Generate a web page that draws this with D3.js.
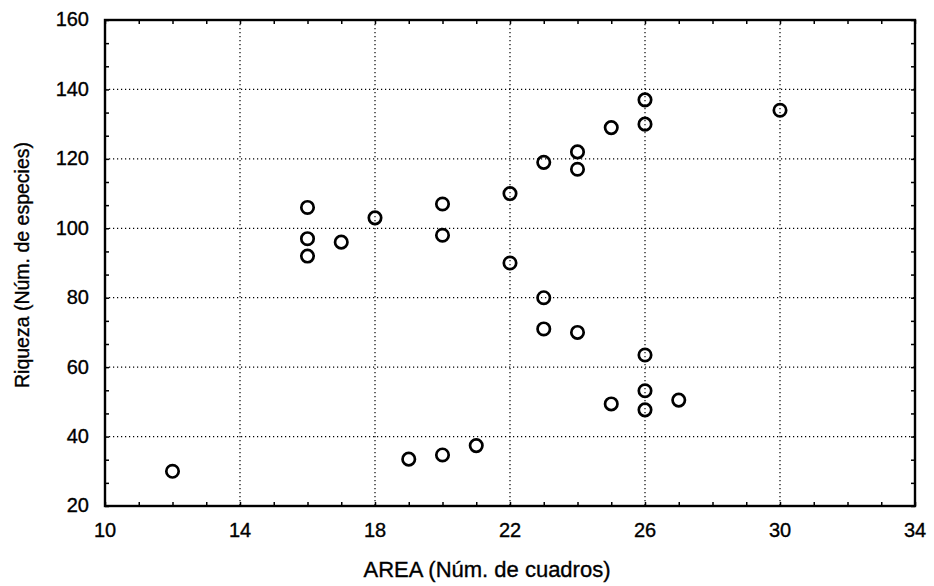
<!DOCTYPE html>
<html>
<head>
<meta charset="utf-8">
<script src="https://cdn.jsdelivr.net/npm/d3@7"></script>
<style>
    html, body { margin: 0; padding: 0; background: #fff; }
    svg { display: block; }
    text { font-family: "Liberation Sans", Arial, Helvetica, sans-serif; fill: #000; stroke: #000; stroke-width: 0.35px; }
</style>
</head>
<body>
<div id="chart"></div>
<script>
// Riqueza vs AREA scatter (scanned figure look)

const areaValues = [12, 16, 16, 16, 17, 18, 20, 20, 22, 22, 23, 24, 24, 25, 26, 26,
    23, 23, 24, 19, 20, 21, 26, 26, 26, 25, 27, 30];
const riquezaValues = [30, 106, 97, 92, 96, 103, 107, 98, 110, 90, 119, 122, 117, 129, 130, 137,
    80, 71, 70, 33.5, 34.7, 37.4, 63.5, 53.2, 47.7, 49.4, 50.5, 134];

const xTicks = [10, 14, 18, 22, 26, 30, 34];
const yTicks = [20, 40, 60, 80, 100, 120, 140, 160];
const xGrid = [14, 18, 22, 26, 30];
const yGrid = [40, 60, 80, 100, 120, 140];

const xTitle = 'AREA (Núm. de cuadros)';
const yTitle = 'Riqueza (Núm. de especies)';

const width = 934;
const height = 586;
const margin = { top: 20, right: 19, bottom: 80, left: 105 };

const svg = d3.select('#chart')
    .append('svg')
    .attr('width', width)
    .attr('height', height);

const x = d3.scaleLinear()
    .domain([10, 34])
    .range([margin.left, width - margin.right]);

const y = d3.scaleLinear()
    .domain([20, 160])
    .range([height - margin.bottom, margin.top]);

// Dotted grid
const grid = svg.append('g')
    .attr('stroke', '#000')
    .attr('stroke-width', 1.2)
    .attr('stroke-dasharray', '1.2,2.8');

grid.selectAll('line.gx')
    .data(xGrid)
    .join('line')
    .attr('class', 'gx')
    .attr('x1', d => x(d)).attr('x2', d => x(d))
    .attr('y1', y.range()[1]).attr('y2', y.range()[0]);

grid.selectAll('line.gy')
    .data(yGrid)
    .join('line')
    .attr('class', 'gy')
    .attr('y1', d => y(d)).attr('y2', d => y(d))
    .attr('x1', x.range()[0]).attr('x2', x.range()[1]);

// Inward ticks on all four sides (minor every 1 on x, every 20/3 on y)
const xMinor = d3.range(10, 34.01, 1);
const yMinor = d3.range(20, 160.01, 20 / 3);
const tickLen = 4;

const bottomAxis = d3.axisBottom(x).tickValues(xMinor).tickSize(-tickLen).tickFormat('');
const topAxis = d3.axisTop(x).tickValues(xMinor).tickSize(-tickLen).tickFormat('');
const leftAxis = d3.axisLeft(y).tickValues(yMinor).tickSize(-tickLen).tickFormat('');
const rightAxis = d3.axisRight(y).tickValues(yMinor).tickSize(-tickLen).tickFormat('');

[
    [bottomAxis, `translate(0,${y.range()[0]})`],
    [topAxis, `translate(0,${y.range()[1]})`],
    [leftAxis, `translate(${x.range()[0]},0)`],
    [rightAxis, `translate(${x.range()[1]},0)`],
].forEach(([ax, tr]) => {
    const g = svg.append('g').attr('transform', tr).call(ax);
    g.select('.domain').remove();
    g.selectAll('line').attr('stroke', '#000').attr('stroke-width', 1.5);
});

// Frame
svg.append('rect')
    .attr('x', x.range()[0])
    .attr('y', y.range()[1])
    .attr('width', x.range()[1] - x.range()[0])
    .attr('height', y.range()[0] - y.range()[1])
    .attr('fill', 'none')
    .attr('stroke', '#000')
    .attr('stroke-width', 2.4);

// Tick labels
svg.append('g')
    .selectAll('text')
    .data(xTicks)
    .join('text')
    .attr('x', d => x(d))
    .attr('y', 537)
    .attr('text-anchor', 'middle')
    .attr('font-size', '20px')
    .text(d => d);

svg.append('g')
    .selectAll('text')
    .data(yTicks)
    .join('text')
    .attr('x', 89)
    .attr('y', d => y(d))
    .attr('dy', '0.32em')
    .attr('text-anchor', 'end')
    .attr('font-size', '20px')
    .text(d => d);

// Axis titles
svg.append('text')
    .attr('x', 487)
    .attr('y', 577)
    .attr('text-anchor', 'middle')
    .attr('font-size', '22px')
    .text(xTitle);

svg.append('text')
    .attr('transform', 'translate(29,265) rotate(-90)')
    .attr('text-anchor', 'middle')
    .attr('font-size', '19.5px')
    .text(yTitle);

// Points: open circles
const points = areaValues.map((a, i) => ({ a, r: riquezaValues[i] }));

svg.append('g')
    .selectAll('circle')
    .data(points)
    .join('circle')
    .attr('cx', d => x(d.a))
    .attr('cy', d => y(d.r))
    .attr('r', 6.2)
    .attr('fill', 'none')
    .attr('stroke', '#000')
    .attr('stroke-width', 2.7);
</script>
</body>
</html>
